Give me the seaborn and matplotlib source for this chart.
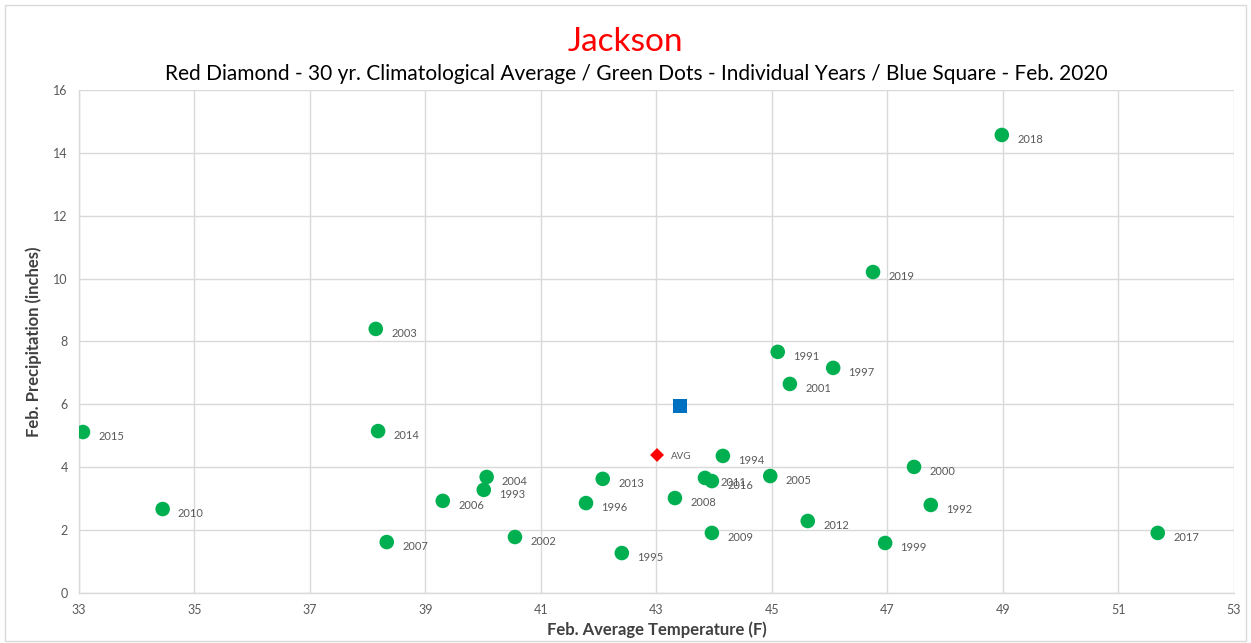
import matplotlib
matplotlib.use("Agg")
import matplotlib.pyplot as plt
import seaborn as sns
import pandas as pd

years = ["2018", "2019", "2003", "2014", "2004", "1993", "2006", "2007", "2002",
         "1991", "1997", "2001", "2005", "2000", "1992", "2012", "1999",
         "1994", "2013", "2011", "2016", "1996", "2008", "2009", "1995",
         "2015", "2010", "2017"]
temps = [48.98, 46.75, 38.14, 38.18, 40.06, 40.01, 39.30, 38.33, 40.55,
         45.10, 46.06, 45.31, 44.97, 47.46, 47.75, 45.62, 46.96,
         44.15, 42.07, 43.84, 43.96, 41.78, 43.32, 43.96, 42.40,
         33.07, 34.45, 51.68]
precip = [14.57, 10.21, 8.40, 5.15, 3.69, 3.28, 2.93, 1.62, 1.78,
          7.67, 7.16, 6.65, 3.72, 4.01, 2.80, 2.29, 1.59,
          4.36, 3.63, 3.66, 3.56, 2.86, 3.02, 1.91, 1.27,
          5.12, 2.67, 1.91]
avg_temp = [43.01]
avg_precip = [4.39]
feb2020_temp = [43.41]
feb2020_precip = [5.95]
x_ticks = [33, 35, 37, 39, 41, 43, 45, 47, 49, 51, 53]
y_ticks = [0, 2, 4, 6, 8, 10, 12, 14, 16]

sns.set_theme(style="white")
plt.rcParams['font.family'] = ['Lato', 'DejaVu Sans']

df = pd.DataFrame({"temp": temps, "precip": precip, "year": years})

fig = plt.figure(figsize=(12.51, 6.43), dpi=100)
ax = fig.add_axes([0.0631, 0.0778, 0.9233, 0.7822])

sns.scatterplot(data=df, x="temp", y="precip", ax=ax, color="#00B050", s=110,
                edgecolor="none", zorder=3)
sns.scatterplot(x=avg_temp, y=avg_precip, ax=ax, color="#FF0000", marker="D",
                s=50, edgecolor="none", zorder=4)
sns.scatterplot(x=feb2020_temp, y=feb2020_precip, ax=ax, color="#0070C0", marker="s",
                s=110, edgecolor="none", zorder=4)

for t, p, yr in zip(temps, precip, years):
    ax.annotate(yr, (t, p), xytext=(11, -3), textcoords="offset points",
                fontsize=8, color="#595959", va="center", ha="left")
ax.annotate("AVG", (avg_temp[0], avg_precip[0]), xytext=(10, -1), textcoords="offset points",
            fontsize=7, color="#595959", va="center", ha="left")

ax.set_xlim(33, 53)
ax.set_ylim(0, 16)
ax.set_xticks(x_ticks)
ax.set_yticks(y_ticks)
ax.tick_params(axis="both", labelsize=9, colors="#595959", length=0, pad=8)
ax.grid(True, color="#D9D9D9", linewidth=1)
for side in ["top", "right"]:
    ax.spines[side].set_visible(False)
for side in ["left", "bottom"]:
    ax.spines[side].set_color("#D9D9D9")
    ax.spines[side].set_linewidth(1)

ax.set_xlabel("Feb. Average Temperature (F)", fontsize=12, fontweight="bold",
              color="#404040", labelpad=4)
ax.set_ylabel("Feb. Precipitation (inches)", fontsize=12, fontweight="bold",
              color="#404040", labelpad=8)

fig.text(0.5, 0.935, "Jackson", ha="center", va="center", fontsize=24, color="#FF0000")
fig.text(0.509, 0.885, "Red Diamond - 30 yr. Climatological Average / Green Dots - Individual Years / Blue Square - Feb. 2020",
         ha="center", va="center", fontsize=15, color="#000000")

border = plt.Rectangle((0.004, 0.003), 0.992, 0.99, transform=fig.transFigure,
                       fill=False, edgecolor="#D9D9D9", linewidth=1)
fig.patches.append(border)

fig.savefig("out.png", dpi=100)
